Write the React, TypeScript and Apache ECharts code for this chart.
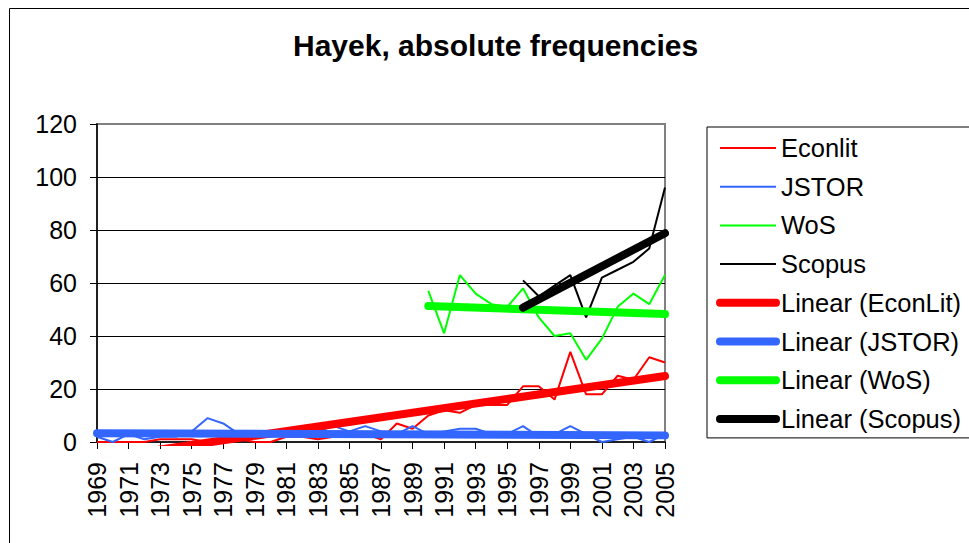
import { useEffect, useRef } from 'react';
import * as echarts from 'echarts';

const YEARS = [
  '1969', '1970', '1971', '1972', '1973', '1974', '1975', '1976', '1977', '1978',
  '1979', '1980', '1981', '1982', '1983', '1984', '1985', '1986', '1987', '1988',
  '1989', '1990', '1991', '1992', '1993', '1994', '1995', '1996', '1997', '1998',
  '1999', '2000', '2001', '2002', '2003', '2004', '2005',
];

const ECONLIT = [
  0, 0, 0, 0, 1, 1, 1, 0, 1, 1,
  0, 0, 2, 2, 1, 2, 3, 3, 1, 7,
  5, 10, 12, 11, 14, 14, 14, 21, 21, 16,
  34, 18, 18, 25, 23.5, 32, 30,
];

const JSTOR = [
  2, 0, 3, 1, 2, 2, 4, 9, 7, 3,
  3, 3, 3, 3, 4, 6, 4, 6, 4, 3,
  6, 3, 4, 5, 5, 3, 3, 6, 2, 3,
  6, 3, 0, 1, 2, 0, 3,
];

const WOS = [
  null, null, null, null, null, null, null, null, null, null,
  null, null, null, null, null, null, null, null, null, null,
  null, 57, 41, 63, 56, 52, 51, 58, 47, 40,
  41, 31, 39, 51, 56, 52, 63,
];

const SCOPUS = [
  null, null, null, null, null, null, null, null, null, null,
  null, null, null, null, null, null, null, null, null, null,
  null, null, null, null, null, null, null, 61, 55, 59,
  63, 47, 62, 65, 68, 73, 96,
];

// Linear trend lines: start and end values
const TREND_ECONLIT: [string, number][] = [['1969', -6.3], ['2005', 24.9]];
const TREND_JSTOR: [string, number][] = [['1969', 3.3], ['2005', 2.5]];
const TREND_WOS: [string, number][] = [['1990', 51.3], ['2005', 48.3]];
const TREND_SCOPUS: [string, number][] = [['1996', 50.7], ['2005', 78.8]];

const Y_TICKS = { min: 0, max: 120, interval: 20 };

const FONT = '"Liberation Sans", Arial, sans-serif';
const THIN_W = 2;
const THICK_W = 8;

export default function App() {
  const ref = useRef<HTMLDivElement>(null);

  useEffect(() => {
    document.body.style.margin = '0';
    if (!ref.current) return;
    const chart = echarts.init(ref.current, undefined, { renderer: 'svg' });

    const thin = (name: string, data: any[], color: string) => ({
      name,
      type: 'line',
      data,
      symbol: 'none',
      showSymbol: false,
      connectNulls: false,
      lineStyle: { color, width: THIN_W },
      itemStyle: { color },
      z: 2,
    });
    const thick = (name: string, data: any[], color: string) => ({
      name,
      type: 'line',
      data,
      symbol: 'none',
      showSymbol: false,
      lineStyle: { color, width: THICK_W, cap: 'round' },
      itemStyle: { color },
      z: 3,
    });

    const thinNames = ['Econlit', 'JSTOR', 'WoS', 'Scopus'];
    const thickNames = ['Linear (EconLit)', 'Linear (JSTOR)', 'Linear (WoS)', 'Linear (Scopus)'];

    chart.setOption({
      animation: false,
      backgroundColor: '#ffffff',
      textStyle: { fontFamily: FONT },
      title: {
        text: 'Hayek, absolute frequencies',
        left: 293,
        top: 30,
        padding: 0,
        textStyle: { fontSize: 30, fontWeight: 'bold', color: '#000', fontFamily: FONT },
      },
      graphic: [
        {
          type: 'rect',
          shape: { x: 9.5, y: 8.5, width: 1100, height: 700 },
          style: { fill: 'none', stroke: '#000', lineWidth: 1 },
          silent: true,
          z: -1,
        },
      ],
      legend: {
        orient: 'vertical',
        left: 707,
        top: 127,
        padding: [8, 9, 6, 9],
        itemGap: 12.7,
        itemWidth: 56,
        itemHeight: 14,
        borderColor: '#000',
        borderWidth: 1,
        borderRadius: 0,
        itemStyle: { opacity: 0 },
        textStyle: { fontSize: 25.5, color: '#000', fontFamily: FONT, lineHeight: 26 },
        data: [
          ...thinNames.map((n) => ({ name: n, lineStyle: { width: THIN_W } })),
          ...thickNames.map((n) => ({ name: n, lineStyle: { width: THICK_W, cap: 'round' } })),
        ],
      },
      grid: {
        left: 97,
        top: 124,
        right: 304,
        bottom: 101,
        show: true,
        borderColor: '#808080',
        borderWidth: 2,
        backgroundColor: 'transparent',
      },
      xAxis: {
        type: 'category',
        data: YEARS,
        boundaryGap: false,
        axisLine: { show: true, lineStyle: { color: '#000', width: 1.5 } },
        axisTick: { show: true, interval: 1, length: 7, lineStyle: { color: '#000' } },
        axisLabel: {
          interval: 1,
          rotate: 90,
          margin: 20,
          fontSize: 25,
          color: '#000',
          fontFamily: FONT,
        },
        splitLine: { show: false },
      },
      yAxis: {
        type: 'value',
        min: Y_TICKS.min,
        max: Y_TICKS.max,
        interval: Y_TICKS.interval,
        axisLine: { show: true, lineStyle: { color: '#000', width: 1.5 } },
        axisTick: { show: true, length: 7, lineStyle: { color: '#000' } },
        axisLabel: { margin: 20, fontSize: 25, color: '#000', fontFamily: FONT },
        splitLine: {
          show: true,
          showMinLine: false,
          showMaxLine: false,
          lineStyle: { color: '#000', width: 1 },
        },
      },
      series: [
        thin('Econlit', ECONLIT, '#FF0000'),
        thin('JSTOR', JSTOR, '#3366FF'),
        thin('WoS', WOS, '#00FF00'),
        thin('Scopus', SCOPUS, '#000000'),
        thick('Linear (EconLit)', TREND_ECONLIT, '#FF0000'),
        thick('Linear (JSTOR)', TREND_JSTOR, '#3366FF'),
        thick('Linear (WoS)', TREND_WOS, '#00FF00'),
        thick('Linear (Scopus)', TREND_SCOPUS, '#000000'),
      ],
    });

    return () => chart.dispose();
  }, []);

  return <div ref={ref} style={{ width: 969, height: 543 }} />;
}
